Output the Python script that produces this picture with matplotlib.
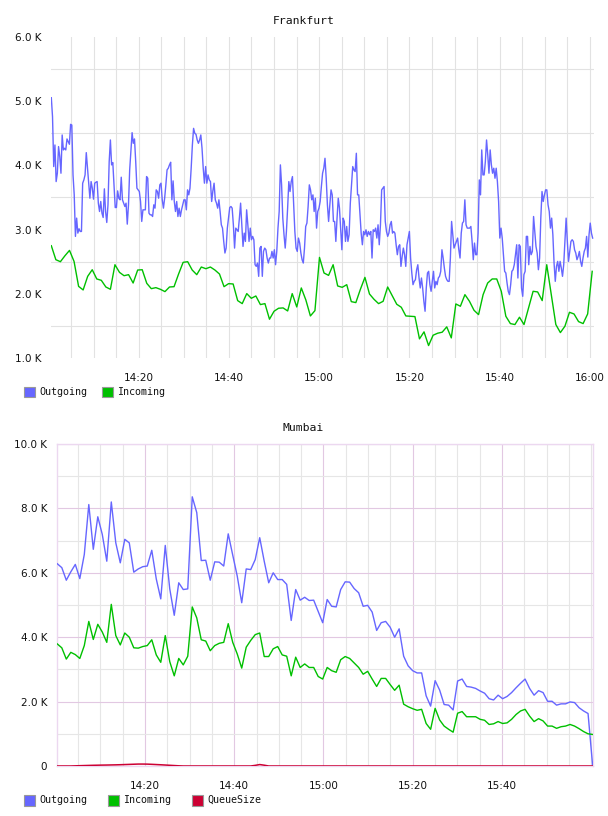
import matplotlib
matplotlib.use("Agg")
import matplotlib.pyplot as plt
import numpy as np
from matplotlib.ticker import MultipleLocator, FuncFormatter, FixedLocator
from matplotlib.patches import Rectangle

# ---------------- data ----------------
series_names = ["Outgoing", "Incoming", "QueueSize"]
series_colors = ["#6666ff", "#00c000", "#cc0033"]

# Frankfurt: minutes after 14:00 of first / last sample
fr_out_start, fr_out_end = 0.65, 120.6
fr_in_start, fr_in_end = 0.65, 120.5
fr_outgoing = [
    5054, 4759, 3982, 4318, 3748, 3878, 4293, 4137, 3878, 4474, 4241, 4267, 4241, 4412, 4370, 4329, 4640, 4629, 3852, 3541,
    2894, 3179, 2945, 3013, 2971, 2971, 3723, 3774, 3852, 4199, 3956, 3697, 3489, 3748, 3645, 3474, 3723, 3738, 3748, 3412,
    3282, 3438, 3256, 3189, 3635, 3282, 3111, 3386, 4059, 4396, 4008, 4044, 3697, 3344, 3344, 3603, 3489, 3464, 3816, 3464,
    3412, 3360, 3412, 3085, 3386, 3930, 4215, 4510, 4344, 4412, 4059, 3645, 3619, 3593, 3438, 3127, 3308, 3308, 3308, 3826,
    3800, 3256, 3230, 3230, 3204, 3386, 3334, 3619, 3593, 3489, 3697, 3723, 3464, 3334, 3489, 3697, 3930, 3956, 4008, 4049,
    3464, 3759, 3438, 3282, 3438, 3204, 3334, 3204, 3308, 3386, 3464, 3464, 3308, 3619, 3541, 3645, 3956, 4318, 4577, 4500,
    4484, 4396, 4344, 4396, 4474, 4267, 3956, 3723, 3982, 3723, 3852, 3774, 3748, 3438, 3603, 3723, 3464, 3412, 3334, 3464,
    3282, 3075, 3023, 2816, 2635, 2712, 3023, 3179, 3344, 3360, 3334, 3075, 2712, 3023, 2997, 2971, 3179, 3412, 3075, 2738,
    2945, 2816, 3308, 3075, 2816, 3023, 2842, 2894, 2842, 2453, 2427, 2479, 2272, 2712, 2738, 2272, 2660, 2712, 2686, 2557,
    2479, 2557, 2557, 2660, 2557, 2686, 2453, 2660, 3023, 3282, 4008, 3697, 3179, 2920, 2712, 2971, 3334, 3748, 3593, 3748,
    3826, 3386, 2971, 2712, 2660, 2868, 2790, 2635, 2531, 2479, 2712, 3049, 3101, 3360, 3697, 3619, 3464, 3541, 3282,
    3489, 3023, 3282, 3334, 3438, 3671, 3878, 3956, 4111, 3800, 3386, 3127, 3386, 3619, 3541, 3127, 3127, 2816, 3179, 3489,
    3334, 3023, 2686, 3179, 3127, 2816, 3049, 2816, 2920, 3412, 3697, 3982, 3930, 3904, 4189, 3541, 3541, 3230, 2945, 2764,
    2971, 2920, 2997, 2894, 2971, 2920, 2971, 2557, 2997, 2971, 3023, 2868, 3075, 2764, 3075, 3619, 3645, 3671, 3127, 2971,
    2894, 2945, 3075, 3127, 2945, 2971, 2945, 2764, 2609, 2738, 2764, 2427, 2583, 2712, 2609, 2427, 2764, 2868, 2971, 2557,
    2324, 2142, 2194, 2220, 2375, 2453, 2246, 2091, 2246, 2091, 1883, 1728, 2091, 2324, 2350, 2142, 2039, 2194, 2350, 2091,
    2194, 2142, 2246, 2272, 2350, 2686, 2557, 2401, 2272, 2220, 2194, 2194, 2557, 3127, 2920, 2712, 2764, 2816, 2868, 2686,
    2557, 2945, 3101, 3127, 3464, 3075, 3023, 3023, 3023, 3049, 2816, 2531, 2790, 2609, 2609, 2945, 3774, 3541, 4241, 3852,
    3852, 4059, 4396, 4163, 3878, 4241, 4008, 3878, 3956, 3800, 3956, 3748, 3438, 2868, 3023, 2868, 2609, 2350, 2324, 2168,
    2039, 1987, 2142, 2350, 2375, 2453, 2609, 2764, 2246, 2764, 2738, 2091, 1961, 2298, 2350, 2894, 2894, 2453, 2738, 2609,
    2660, 3204, 2971, 2738, 2635, 2375, 2557, 3179, 3593, 3438, 3541, 3619, 3619, 3386, 3282, 3023, 3179, 2920, 2479, 2194,
    2427, 2505, 2350, 2505, 2401, 2272, 2453, 2816, 3179, 2816, 2505, 2660, 2816, 2842, 2816, 2686, 2635, 2531, 2583, 2660,
    2505, 2427, 2557, 2660, 2712, 2894, 2572, 2920, 3101, 2945, 2868,
]
fr_incoming = [
    2749, 2531, 2500, 2593, 2676, 2505, 2116, 2060, 2272, 2375, 2231, 2210, 2106, 2070, 2453, 2334, 2282, 2298, 2168, 2370,
    2375, 2163, 2080, 2096, 2070, 2034, 2106, 2111, 2308, 2490, 2500,
    2370, 2298, 2417, 2391, 2417, 2370, 2308, 2111, 2158, 2153, 1894, 1847, 2003, 1930, 1966, 1832, 1847, 1604, 1728, 1775,
    1780, 1733, 2003, 1795, 2091, 1904, 1655, 1738, 2567, 2324,
    2287, 2453, 2122, 2101, 2142, 1878, 1863, 2070, 2256, 1997, 1914, 1847, 1883, 2106, 1971, 1837, 1790, 1655, 1650, 1645,
    1298, 1407, 1194, 1355, 1386, 1402, 1485, 1313, 1842, 1806,
    1987, 1883, 1743, 1676, 1987, 2168, 2231, 2231, 2039, 1650, 1536, 1521, 1635, 1521, 1780, 2039, 2029, 1894, 2453, 1987,
    1521, 1396, 1495, 1712, 1686, 1567, 1536, 1686, 2350,
]

# Mumbai
mu_start, mu_end = 0.35, 120.3
mu_outgoing = [
    6280, 6160, 5770, 6030, 6260, 5820, 6570, 8120, 6730, 7740, 7190, 6360, 8200, 6930, 6310, 7040, 6930, 6020, 6120, 6190,
    6210, 6700, 5810, 5190, 6850, 5500, 4680, 5690, 5480, 5500, 8360, 7870, 6380, 6390, 5770, 6340, 6330, 6210, 7210, 6550,
    5900, 5070, 6120, 6100, 6410, 7090, 6360, 5690, 6000, 5790, 5790, 5640, 4520, 5480,
    5150, 5240, 5140, 5150, 4800, 4450, 5170, 4960, 4940, 5480, 5720, 5710, 5510, 5380, 4960, 4990, 4780, 4210, 4450, 4490,
    4310, 4000, 4260, 3410, 3110, 2960, 2890, 2890, 2180, 1860, 2650, 2360, 1910, 1890, 1740, 2640, 2700, 2470, 2450, 2410,
    2330, 2260, 2090, 2050, 2200, 2090, 2160, 2280, 2430, 2570, 2700, 2410, 2200, 2340, 2280, 2010, 2010, 1890, 1930, 1930,
    1990, 1970, 1810, 1710, 1630, 40,
]
mu_incoming = [
    3790, 3670, 3320, 3530, 3460, 3340, 3740, 4490, 3930, 4400, 4160, 3840, 5020, 4050, 3760, 4130, 4000, 3670, 3660, 3710,
    3740, 3920, 3450, 3220, 4050, 3240, 2800, 3340, 3140, 3410, 4940, 4600, 3920, 3880, 3580, 3740, 3810, 3840, 4420, 3840,
    3480, 3040, 3690, 3900, 4080, 4130, 3400, 3400, 3640, 3710, 3450, 3410, 2800, 3380,
    3060, 3170, 3060, 3060, 2780, 2700, 3060, 2960, 2910, 3300, 3400, 3340, 3200, 3060, 2850, 2940, 2700, 2470, 2720, 2720,
    2530, 2350, 2510, 1920, 1840, 1780, 1730, 1760, 1320, 1140, 1790, 1430, 1240, 1140, 1050, 1640, 1690, 1530, 1530, 1530,
    1450, 1420, 1290, 1310, 1380, 1320, 1340, 1450, 1600, 1710, 1760, 1550, 1380, 1470, 1400, 1240, 1240, 1170, 1220, 1240,
    1290, 1240, 1160, 1070, 1000, 980,
]
mu_queue = (
    [0, 0, 0, 0]
    + [5, 10, 14, 18, 22, 25, 28, 30, 33, 36, 40, 45, 50, 55, 60, 60, 58, 52, 45, 38, 30, 22, 14, 6]
    + [0] * 16
    + [20, 45, 25]
    + [0] * 73
)
mu_time_ticks = [20, 40, 60, 80, 100]

# ---------------- figure ----------------
W, H = 608, 816
fig = plt.figure(figsize=(W / 100, H / 100), dpi=100)
fig.patch.set_facecolor("white")


def box(l, t, r, b):
    return [l / W, 1 - b / H, (r - l) / W, (b - t) / H]


def hhmm(m, pos=None):
    t = int(round(m))
    return f"{14 + t // 60}:{t % 60:02d}"


def kfmt(v, pos=None):
    if abs(v) < 1e-9:
        return "0"
    return f"{v / 1000:.1f} K"


TICKFONT = dict(family="DejaVu Sans", size=7.5)
MONO = "DejaVu Sans Mono"

# ---- Frankfurt ----
ax1 = fig.add_axes(box(51, 37, 594, 358))
t_out = np.linspace(fr_out_start, fr_out_end, len(fr_outgoing))
t_in = np.linspace(fr_in_start, fr_in_end, len(fr_incoming))
ax1.plot(t_out, fr_outgoing, color=series_colors[0], lw=1.0, zorder=3)
ax1.plot(t_in, fr_incoming, color=series_colors[1], lw=1.0, zorder=3)
ax1.set_xlim(0.58, 120.9)
ax1.set_ylim(1000, 6000)
ax1.xaxis.set_major_locator(MultipleLocator(20))
ax1.xaxis.set_minor_locator(MultipleLocator(5))
ax1.xaxis.set_major_formatter(FuncFormatter(hhmm))
ax1.yaxis.set_major_locator(MultipleLocator(1000))
ax1.yaxis.set_major_formatter(FuncFormatter(kfmt))
ax1.set_yticks(np.arange(1500, 6000, 1000), minor=True)
ax1.grid(which="both", axis="x", color="#e2e2e2", lw=0.8, zorder=0)
ax1.grid(which="minor", axis="y", color="#e2e2e2", lw=0.8, zorder=0)
ax1.grid(which="major", axis="y", visible=False)
for s in ax1.spines.values():
    s.set_visible(False)
ax1.tick_params(which="both", length=0)
ax1.tick_params(axis="x", pad=11)
ax1.tick_params(axis="y", pad=7)
for lab in ax1.get_xticklabels() + ax1.get_yticklabels():
    lab.set_fontfamily(TICKFONT["family"])
    lab.set_fontsize(TICKFONT["size"])
    lab.set_color("#111111")
ax1.set_axisbelow(True)

# ---- Mumbai ----
ax2 = fig.add_axes(box(57, 444, 593, 766))
tm = np.linspace(mu_start, mu_end, len(mu_outgoing))
ax2.plot(tm, mu_outgoing, color=series_colors[0], lw=1.0, zorder=3)
ax2.plot(tm, mu_incoming, color=series_colors[1], lw=1.0, zorder=3)
ax2.plot(tm, mu_queue, color=series_colors[2], lw=1.1, zorder=4)
ax2.set_xlim(0.28, 120.4)
ax2.set_ylim(0, 10000)
ax2.xaxis.set_major_locator(FixedLocator(mu_time_ticks))
ax2.xaxis.set_minor_locator(MultipleLocator(5))
ax2.xaxis.set_major_formatter(FuncFormatter(hhmm))
ax2.yaxis.set_major_locator(MultipleLocator(2000))
ax2.yaxis.set_minor_locator(MultipleLocator(1000))
ax2.yaxis.set_major_formatter(FuncFormatter(kfmt))
ax2.grid(which="major", color="#e2c8e2", lw=0.8, zorder=0)
ax2.grid(which="minor", color="#e6e6e6", lw=0.8, zorder=0)
for s in ax2.spines.values():
    s.set_color("#ecd8f0")
    s.set_linewidth(1.0)
ax2.tick_params(which="both", length=0)
ax2.tick_params(axis="x", pad=11)
ax2.tick_params(axis="y", pad=7)
for lab in ax2.get_xticklabels() + ax2.get_yticklabels():
    lab.set_fontfamily(TICKFONT["family"])
    lab.set_fontsize(TICKFONT["size"])
    lab.set_color("#111111")
ax2.set_axisbelow(True)

# ---- titles ----
fig.text(303.5 / W, 1 - 21 / H, "Frankfurt", ha="center", va="center", family=MONO, size=8.2, color="#111111")
fig.text(303 / W, 1 - 428 / H, "Mumbai", ha="center", va="center", family=MONO, size=8.2, color="#111111")


# ---- legends ----
def legend(y, entries):
    for x, name, col in entries:
        fig.patches.append(Rectangle((x / W, 1 - (y + 5.5) / H), 11 / W, 11 / H,
                                     transform=fig.transFigure, facecolor=col,
                                     edgecolor="#999999", lw=0.8))
        fig.text((x + 15) / W, 1 - y / H, name, ha="left", va="center",
                 family=MONO, size=7.2, color="#111111")


legend(392, [(24, series_names[0], series_colors[0]), (102, series_names[1], series_colors[1])])
legend(800, [(24, series_names[0], series_colors[0]), (108, series_names[1], series_colors[1]),
             (192, series_names[2], series_colors[2])])

fig.savefig("out.png", dpi=100, facecolor="white")
